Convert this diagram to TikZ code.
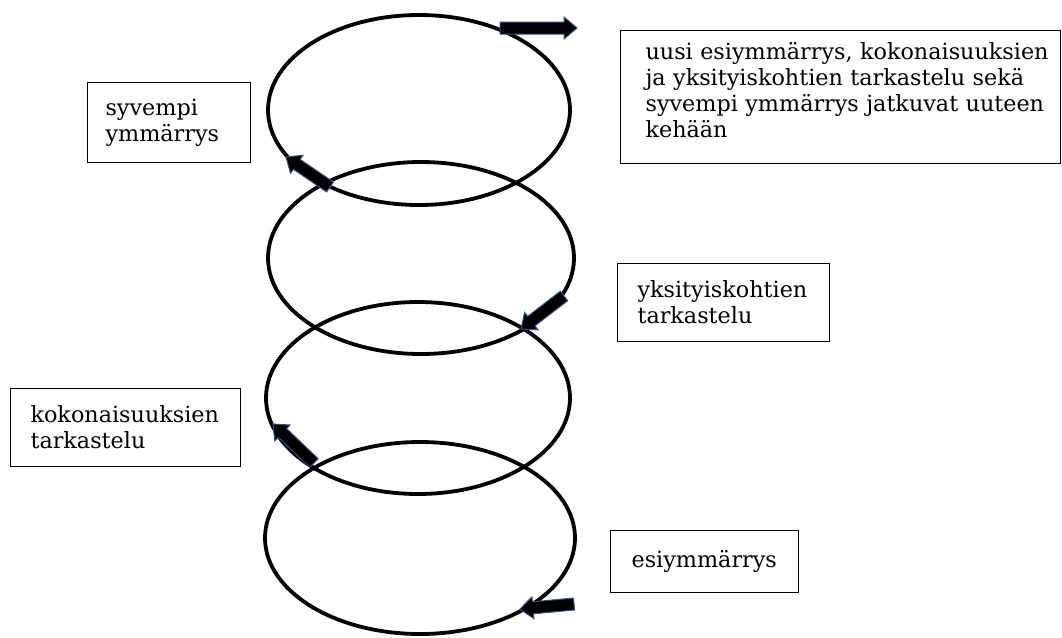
\documentclass[tikz,border=0pt]{standalone}
\usepackage{fontspec}
\setmainfont{DejaVu Serif}
\usetikzlibrary{calc,shapes.geometric}
\definecolor{arrowblue}{RGB}{47,82,143}

% thick block arrow from tail #1 to tip #2
\newcommand\blockarrow[2]{%
  \coordinate (#1base) at ($(#2)!13pt!(#1)$);
  \filldraw[barrow]
    ($(#1)!6pt!90:(#2)$) -- ($(#1base)!6pt!90:(#2)$) -- ($(#1base)!11pt!90:(#2)$)
    -- (#2)
    -- ($(#1base)!11pt!-90:(#2)$) -- ($(#1base)!6pt!-90:(#2)$) -- ($(#1)!6pt!-90:(#2)$) -- cycle;}

\begin{document}
\begin{tikzpicture}[x=1pt,y=-1pt,
  ring/.style={draw=black, line width=3.8pt, ellipse, inner sep=0pt, outer sep=0pt},
  textbox/.style={draw=black, line width=1.1pt, anchor=north west, align=left,
    inner ysep=0pt, font=\fontsize{22.3}{26}\selectfont},
  barrow/.style={fill=black, draw=arrowblue, line width=1pt, line join=miter}]
\useasboundingbox (0,0) rectangle (1062,637);

% the four stacked rings of the spiral
\node[ring, minimum width=302pt, minimum height=190pt] (ring1) at (419,110) {};
\node[ring, minimum width=306pt, minimum height=192pt] (ring2) at (421,258) {};
\node[ring, minimum width=304pt, minimum height=192pt] (ring3) at (418,398) {};
\node[ring, minimum width=310pt, minimum height=192pt] (ring4) at (420,538) {};

% labels
\node[textbox, minimum width=440pt, minimum height=133pt, text width=390pt, inner xsep=25pt,
  text depth=92pt]
  (new) at (620,30) {\mbox{uusi esiymmärrys, kokonaisuuksien}\\\mbox{ja yksityiskohtien tarkastelu sekä}\\\mbox{syvempi ymmärrys jatkuvat uuteen}\\kehään};
\node[textbox, minimum width=163pt, minimum height=80pt, text width=127pt, inner xsep=18pt]
  (deep) at (87,82) {syvempi\\ymmärrys};
\node[textbox, minimum width=212pt, minimum height=78pt, text width=172pt, inner xsep=20pt]
  (parts) at (617,263) {yksityiskohtien\\tarkastelu};
\node[textbox, minimum width=230pt, minimum height=78pt, text width=190pt, inner xsep=20pt]
  (whole) at (10,388) {kokonaisuuksien\\tarkastelu};
\node[textbox, minimum width=188pt, minimum height=62pt, text width=146pt, inner xsep=21pt]
  (pre) at (610,530) {esiymmärrys};

% direction arrows along the rings
\coordinate (a1) at (500,28);  \coordinate (a1tip) at (577,28);
\coordinate (a2) at (330,187); \coordinate (a2tip) at (286,157);
\coordinate (a3) at (564,296); \coordinate (a3tip) at (521,329);
\coordinate (a4) at (314,463); \coordinate (a4tip) at (273,424);
\coordinate (a5) at (574,604); \coordinate (a5tip) at (520,609);
\blockarrow{a1}{a1tip}
\blockarrow{a2}{a2tip}
\blockarrow{a3}{a3tip}
\blockarrow{a4}{a4tip}
\blockarrow{a5}{a5tip}
\end{tikzpicture}
\end{document}
